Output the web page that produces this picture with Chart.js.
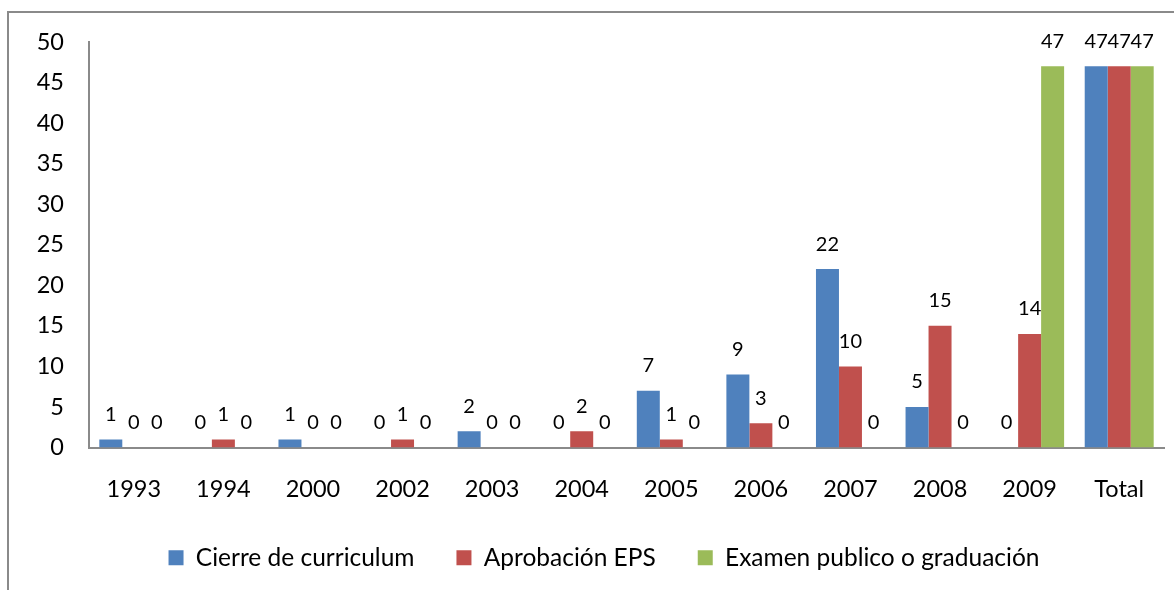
<!DOCTYPE html>
<html>
<head>
<meta charset="utf-8">
<script src="https://cdn.jsdelivr.net/npm/chart.js@4"></script>
<style>
    html, body { margin: 0; padding: 0; background: #fff; overflow: hidden; }
    #frame {
        position: absolute; left: 7px; top: 11px; width: 1300px; height: 700px;
        border-left: 2px solid #8a8a8a; border-top: 2px solid #8a8a8a;
    }
    #chart { position: absolute; left: 0; top: 0; }
</style>
</head>
<body>
<div id="frame"></div>
<canvas id="chart" width="1174" height="590"></canvas>
<script>
// Chart data
const categories = ['1993', '1994', '2000', '2002', '2003', '2004', '2005', '2006', '2007', '2008', '2009', 'Total'];
const cierre = [1, 0, 1, 0, 2, 0, 7, 9, 22, 5, 0, 47];
const aprobacion = [0, 1, 0, 1, 0, 2, 1, 3, 10, 15, 14, 47];
const examen = [0, 0, 0, 0, 0, 0, 0, 0, 0, 0, 47, 47];
const yTicks = [0, 5, 10, 15, 20, 25, 30, 35, 40, 45, 50];

const fontFamily = 'Lato, "Open Sans", sans-serif';

// value labels above each bar
const valueLabels = {
    id: 'valueLabels',
    afterDatasetsDraw(chart) {
        const ctx = chart.ctx;
        ctx.save();
        ctx.font = '20px ' + fontFamily;
        ctx.fillStyle = '#000';
        ctx.textAlign = 'center';
        ctx.textBaseline = 'middle';
        chart.data.datasets.forEach((ds, i) => {
            chart.getDatasetMeta(i).data.forEach((bar, j) => {
                ctx.fillText(String(ds.data[j]), bar.x, bar.y - 25);
            });
        });
        ctx.restore();
    }
};

// nudge the legend right and up, like the original
const legendShift = {
    id: 'legendShift',
    afterLayout(chart) {
        const lg = chart.legend;
        if (lg) {
            lg.left += 22;
            lg.right += 22;
            lg.top -= 6;
            lg.bottom -= 6;
        }
    }
};

const ctx = document.getElementById('chart').getContext('2d');
new Chart(ctx, {
    type: 'bar',
    data: {
        labels: categories,
        datasets: [
            { label: 'Cierre de curriculum', data: cierre, backgroundColor: '#4F81BD' },
            { label: 'Aprobación EPS', data: aprobacion, backgroundColor: '#C0504D' },
            { label: 'Examen publico o graduación', data: examen, backgroundColor: '#9BBB59' }
        ]
    },
    options: {
        responsive: false,
        animation: false,
        layout: { padding: { top: 42, right: 10, bottom: 4, left: 0 } },
        datasets: {
            bar: { categoryPercentage: 0.77, barPercentage: 1.0 }
        },
        scales: {
            y: {
                min: 0, max: 50,
                afterBuildTicks: (scale) => { scale.ticks = yTicks.map(v => ({ value: v })); },
                afterFit: (scale) => { scale.width = 89; },
                grid: { display: false, drawTicks: false },
                border: { display: true, color: '#8a8a8a', width: 2 },
                ticks: { color: '#000', padding: 25, font: { family: fontFamily, size: 23.5 } }
            },
            x: {
                afterFit: (scale) => { scale.height = 62; },
                grid: { display: false, drawTicks: false },
                border: { display: true, color: '#8a8a8a', width: 2 },
                ticks: { color: '#000', padding: 28, font: { family: fontFamily, size: 23.5 } }
            }
        },
        plugins: {
            legend: {
                position: 'bottom',
                labels: {
                    color: '#000',
                    boxWidth: 15, boxHeight: 15,
                    padding: 42,
                    font: { family: fontFamily, size: 24.5 }
                }
            },
            tooltip: { enabled: false }
        }
    },
    plugins: [valueLabels, legendShift]
});
</script>
</body>
</html>
